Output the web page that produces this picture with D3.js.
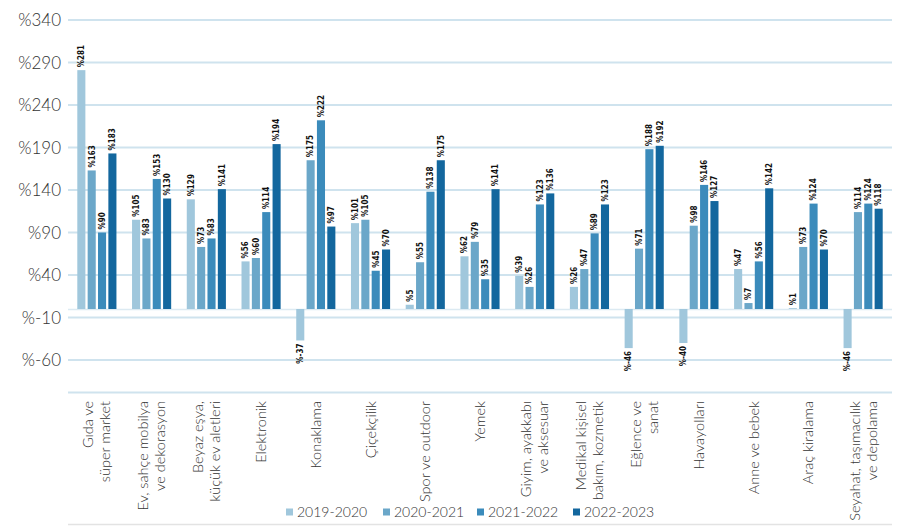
<!DOCTYPE html>
<html><head><meta charset="utf-8">
<script src="https://cdn.jsdelivr.net/npm/d3@7"></script>
<style>
body{margin:0;background:#fff;}
svg{display:block;}
</style></head>
<body>
<svg id="chart" width="900" height="526"></svg>
<script>
const categories = [
  ["Gıda ve","süper market"],
  ["Ev, sahçe mobilya","ve dekorasyon"],
  ["Beyaz eşya,","küçük ev aletleri"],
  ["Elektronik"],
  ["Konaklama"],
  ["Çiçekçilik"],
  ["Spor ve outdoor"],
  ["Yemek"],
  ["Giyim, ayakkabı","ve aksesuar"],
  ["Medikal kişisel","bakım, kozmetik"],
  ["Eğlence ve","sanat"],
  ["Havayolları"],
  ["Anne ve bebek"],
  ["Araç kiralama"],
  ["Seyahat, taşımacılık","ve depolama"]
];
const seriesNames = ["2019-2020","2020-2021","2021-2022","2022-2023"];
const s2019_2020 = [281,105,129,56,-37,101,5,62,39,26,-46,-40,47,1,-46];
const s2020_2021 = [163,83,73,60,175,105,55,79,26,47,71,98,7,73,114];
const s2021_2022 = [90,153,83,114,222,45,138,35,123,89,188,146,56,124,124];
const s2022_2023 = [183,130,141,194,97,70,175,141,136,123,192,127,142,70,118];
const yTicks = [340,290,240,190,140,90,40,-10,-60];
const colors = ["#a0c7dc","#6ba7c9","#3b8bbb","#13679e"];

const series = [s2019_2020, s2020_2021, s2021_2022, s2022_2023];
const svg = d3.select("#chart");
const left = 68, right = 892;

const y = d3.scaleLinear().domain([-60,340]).range([360,20]);
const x0 = d3.scaleBand().domain(d3.range(categories.length)).range([left,right]).paddingInner(0.285).paddingOuter(0.17);
const x1 = d3.scaleBand().domain(d3.range(4)).range([0,x0.bandwidth()]).paddingInner(0.22);

// gridlines
svg.append("g").selectAll("line").data(yTicks).join("line")
  .attr("x1",left).attr("x2",right).attr("y1",d=>y(d)).attr("y2",d=>y(d))
  .attr("stroke","#cfe3ee").attr("stroke-width",2);
// zero baseline
svg.append("line").attr("x1",left).attr("x2",right).attr("y1",y(0)+0.5).attr("y2",y(0)+0.5)
  .attr("stroke","#dceaf2").attr("stroke-width",1.5);

// y labels
svg.append("g").selectAll("text").data(yTicks).join("text")
  .attr("x",61).attr("y",d=>y(d)).attr("dy","0.36em").attr("text-anchor","end")
  .attr("font-family","Lato, 'Open Sans', sans-serif").attr("font-weight",300)
  .attr("font-size",17).attr("fill","#333").text(d=>"%"+d);

// bars
const groups = svg.append("g").selectAll("g").data(categories).join("g")
  .attr("transform",(d,i)=>`translate(${x0(i)},0)`);
groups.each(function(c,i){
  const g = d3.select(this);
  const vals = series.map((s,k)=>({k, v:s[i]}));
  g.selectAll("rect").data(vals).join("rect")
    .attr("x",d=>x1(d.k)).attr("width",x1.bandwidth())
    .attr("y",d=>y(Math.max(0,d.v))).attr("height",d=>Math.abs(y(d.v)-y(0)))
    .attr("fill",d=>colors[d.k]);
  g.selectAll("text.val").data(vals).join("text").attr("class","val")
    .attr("transform",d=>{
      const cx = x1(d.k)+x1.bandwidth()/2;
      const yy = d.v>=0 ? y(d.v)-3 : y(d.v)+3;
      return `translate(${cx},${yy}) rotate(-90)`;
    })
    .attr("dy","0.35em")
    .attr("text-anchor",d=>d.v>=0?"start":"end")
    .attr("font-family","'Liberation Sans Narrow','DejaVu Sans Condensed',sans-serif")
    .attr("font-weight","bold").attr("font-size",8).attr("fill","#111")
    .text(d=>"%"+d.v);
});

// bottom area lines
svg.append("line").attr("x1",left).attr("x2",right).attr("y1",392.5).attr("y2",392.5)
  .attr("stroke","#cfe3ee").attr("stroke-width",2);
svg.append("line").attr("x1",left).attr("x2",right).attr("y1",524.5).attr("y2",524.5)
  .attr("stroke","#e3e3e3").attr("stroke-width",1.5);

// x labels
const xl = svg.append("g").selectAll("text").data(categories).join("text")
  .attr("transform",(d,i)=>`translate(${x0(i)+x0.bandwidth()/2},401) rotate(-90)`)
  .attr("text-anchor","end")
  .attr("font-family","Lato, 'Open Sans', sans-serif").attr("font-weight",300)
  .attr("font-size",14.5).attr("fill","#333");
xl.each(function(lines){
  const t = d3.select(this);
  lines.forEach((ln,j)=>{
    t.append("tspan").attr("x",0).attr("y",(j-(lines.length-1)/2)*17).attr("dy","0.35em").text(ln);
  });
});

// legend
const legX = [286,383,477,573];
const leg = svg.append("g").selectAll("g").data(seriesNames).join("g")
  .attr("transform",(d,i)=>`translate(${legX[i]},512)`);
leg.append("rect").attr("x",0).attr("y",-3.5).attr("width",7).attr("height",7).attr("fill",(d,i)=>colors[i]);
leg.append("text").attr("x",11).attr("y",0).attr("dy","0.36em")
  .attr("font-family","Lato, 'Open Sans', sans-serif").attr("font-weight",300)
  .attr("font-size",14).attr("fill","#333").text(d=>d);
</script>
</body></html>
